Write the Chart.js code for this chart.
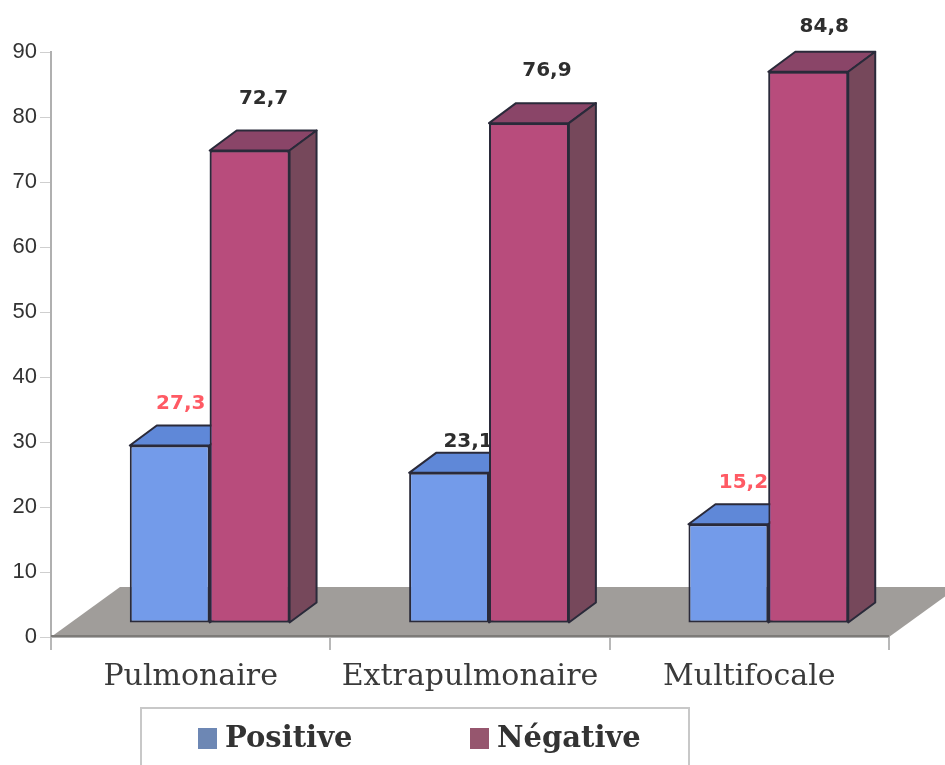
<!DOCTYPE html>
<html>
<head>
<meta charset="utf-8">
<title>Positive / Négative</title>
<script src="https://cdn.jsdelivr.net/npm/chart.js@4"></script>
<style>
    html, body { margin: 0; padding: 0; background: #fff; overflow: hidden; }
    #wrap { position: relative; width: 945px; height: 765px; }
</style>
</head>
<body>
<div id="wrap"><canvas id="chart" width="945" height="765"></canvas></div>
<script>
const categories = ['Pulmonaire', 'Extrapulmonaire', 'Multifocale'];
const seriesNames = ['Positive', 'Négative'];
const positiveValues = [27.3, 23.1, 15.2];
const negativeValues = [72.7, 76.9, 84.8];
const yTicks = [0, 10, 20, 30, 40, 50, 60, 70, 80, 90];

// Fake 3D: the bars sit on a plane raised from the axis, depth goes up and right
const PLANE = { dx: 19, dy: -14 };
const DEPTH = { dx: 27, dy: -20 };
const FLOOR_DEPTH = { dx: 69, dy: -50 };
const OUTLINE = '#2a2a3a';

const faceColors = [
    { front: '#739bea', top: '#5f88d8', side: '#4f6fb0', swatch: '#6d87b4' },
    { front: '#b84c7c', top: '#8a4568', side: '#76485b', swatch: '#96566e' }
];

// Value labels are hand placed around each bar top
const labelColors = ['#ff5a64', '#2e2e2e', '#ff5a64'];
const labelNudge = [
    [[11, -42], [19, -31], [15, -41]],
    [[14, -52], [18, -52], [16, -45]]
];

const formatValue = v => v.toFixed(1).replace('.', ',');

function polygon(ctx, points, fill) {
    ctx.beginPath();
    points.forEach((p, i) => i ? ctx.lineTo(p[0], p[1]) : ctx.moveTo(p[0], p[1]));
    ctx.closePath();
    ctx.fillStyle = fill;
    ctx.fill();
    ctx.lineWidth = 2;
    ctx.strokeStyle = OUTLINE;
    ctx.stroke();
}

const floorPlugin = {
    id: 'floor',
    beforeDatasetsDraw(chart) {
        const { ctx, scales: { x, y } } = chart;
        const base = y.getPixelForValue(0);
        ctx.save();
        ctx.beginPath();
        ctx.moveTo(x.left, base);
        ctx.lineTo(x.right, base);
        ctx.lineTo(x.right + FLOOR_DEPTH.dx, base + FLOOR_DEPTH.dy);
        ctx.lineTo(x.left + FLOOR_DEPTH.dx, base + FLOOR_DEPTH.dy);
        ctx.closePath();
        ctx.fillStyle = '#a09d9a';
        ctx.fill();
        ctx.beginPath();
        ctx.moveTo(x.left, base - 1);
        ctx.lineTo(x.right, base - 1);
        ctx.lineWidth = 2;
        ctx.strokeStyle = '#7d7b78';
        ctx.stroke();
        ctx.restore();
    }
};

const bars3dPlugin = {
    id: 'bars3d',
    beforeDatasetDraw(chart) {
        chart.ctx.save();
        chart.ctx.translate(PLANE.dx, PLANE.dy);
    },
    afterDatasetDraw(chart, args) {
        const ctx = chart.ctx;
        const colors = faceColors[args.index];
        ctx.lineJoin = 'round';
        args.meta.data.forEach(bar => {
            const left = bar.x - bar.width / 2;
            const right = bar.x + bar.width / 2;
            polygon(ctx, [
                [left, bar.y],
                [left + DEPTH.dx, bar.y + DEPTH.dy],
                [right + DEPTH.dx, bar.y + DEPTH.dy],
                [right, bar.y]
            ], colors.top);
            polygon(ctx, [
                [right, bar.y],
                [right + DEPTH.dx, bar.y + DEPTH.dy],
                [right + DEPTH.dx, bar.base + DEPTH.dy],
                [right, bar.base]
            ], colors.side);
        });
        ctx.restore();

        ctx.save();
        ctx.font = 'bold 20px "DejaVu Sans"';
        ctx.textAlign = 'center';
        ctx.textBaseline = 'middle';
        args.meta.data.forEach((bar, i) => {
            const nudge = labelNudge[args.index][i];
            ctx.fillStyle = args.index === 0 ? labelColors[i] : '#2e2e2e';
            ctx.fillText(
                formatValue(chart.data.datasets[args.index].data[i]),
                bar.x + PLANE.dx + nudge[0],
                bar.y + PLANE.dy + nudge[1]
            );
        });

        // Positive is drawn last, so the Négative fronts go back over it
        if (args.index === 0) {
            ctx.translate(PLANE.dx, PLANE.dy);
            chart.getDatasetMeta(1).data.forEach(bar => bar.draw(ctx));
        }
        ctx.restore();
    }
};

// Legend box runs off the bottom of the canvas
const legendBoxPlugin = {
    id: 'legendBox',
    afterDraw(chart) {
        const ctx = chart.ctx;
        ctx.save();
        ctx.strokeStyle = '#c8c8c8';
        ctx.lineWidth = 2;
        ctx.strokeRect(141, 708, 548, 80);
        const swatchX = [198, 470];
        seriesNames.forEach((name, i) => {
            ctx.fillStyle = faceColors[i].swatch;
            ctx.fillRect(swatchX[i], 728, 19, 21);
            ctx.fillStyle = '#333';
            ctx.font = 'bold 29px "DejaVu Serif"';
            ctx.textAlign = 'left';
            ctx.textBaseline = 'middle';
            ctx.fillText(name, swatchX[i] + 27, 739);
        });
        ctx.restore();
    }
};

new Chart(document.getElementById('chart'), {
    type: 'bar',
    data: {
        labels: categories,
        datasets: [
            { label: seriesNames[0], data: positiveValues },
            { label: seriesNames[1], data: negativeValues }
        ].map((ds, i) => ({
            ...ds,
            backgroundColor: faceColors[i].front,
            borderColor: OUTLINE,
            borderWidth: 2,
            borderSkipped: false,
            categoryPercentage: 0.572,
            barPercentage: 1,
            clip: false
        }))
    },
    options: {
        responsive: false,
        animation: false,
        layout: { padding: { top: 52, right: 56, left: 0, bottom: 0 } },
        plugins: {
            legend: { display: false },
            tooltip: { enabled: false }
        },
        scales: {
            x: {
                afterFit(scale) { scale.height = 128; },
                border: { color: '#b0b0b0', width: 2 },
                grid: { drawOnChartArea: false, color: '#b8b8b8', lineWidth: 2, tickLength: 13 },
                ticks: { color: '#3a3a3a', padding: 9, maxRotation: 0, font: { family: '"DejaVu Serif"', size: 30 } }
            },
            y: {
                min: 0,
                max: 90,
                afterFit(scale) { scale.width = 51; },
                afterBuildTicks(scale) { scale.ticks = yTicks.map(value => ({ value })); },
                border: { color: '#b0b0b0', width: 2 },
                grid: { drawOnChartArea: false, color: '#cfcfcf', lineWidth: 1, tickLength: 11 },
                ticks: { color: '#333', padding: 3, font: { family: '"Liberation Sans"', size: 22 } }
            }
        }
    },
    plugins: [floorPlugin, bars3dPlugin, legendBoxPlugin]
});
</script>
</body>
</html>
